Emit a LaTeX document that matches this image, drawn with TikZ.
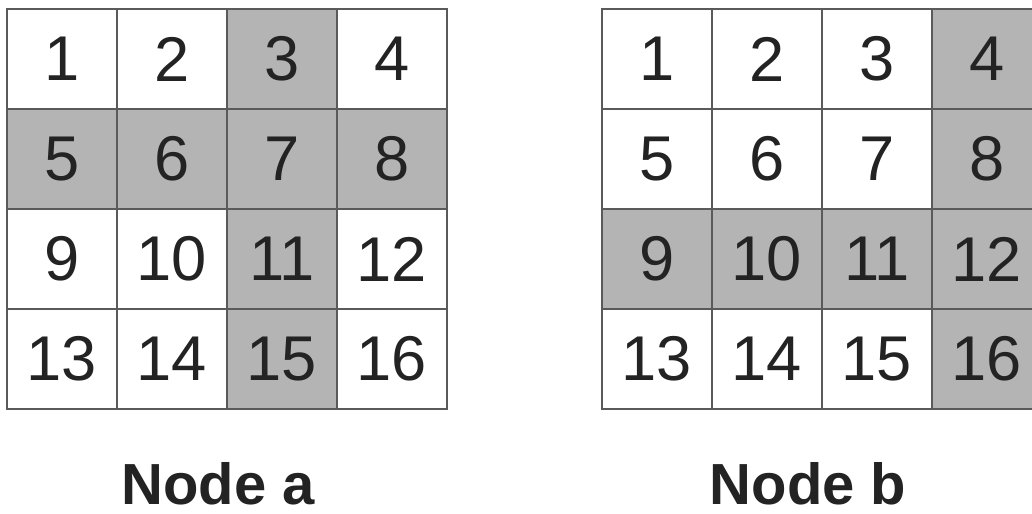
\documentclass[tikz,border=0pt]{standalone}
\usepackage{fontspec}
\setmainfont{Liberation Sans}
\usepackage{tikz}
\usetikzlibrary{positioning}
\definecolor{cellgray}{RGB}{180,180,180}
\definecolor{gridline}{RGB}{90,90,90}
\definecolor{digitink}{RGB}{35,35,35}

\begin{document}
\begin{tikzpicture}[
  x=0.02cm, y=-0.02cm,
  cell/.style={draw=gridline, line width=1.1pt, fill=white, minimum width=2.2cm, minimum height=2cm, inner sep=0pt, font=\fontsize{36}{40}\selectfont, text=digitink},
  shaded/.style={cell, fill=cellgray},
  caption/.style={font=\bfseries\fontsize{33}{38}\selectfont, text=digitink, anchor=base},
]
  \clip (0,0) rectangle (1032,514);
  % grid of node a
  \foreach \n/\st in {1/cell, 2/cell, 3/shaded, 4/cell, 5/shaded, 6/shaded, 7/shaded, 8/shaded,
                      9/cell, 10/cell, 11/shaded, 12/cell, 13/cell, 14/cell, 15/shaded, 16/cell} {
    \pgfmathtruncatemacro\col{mod(\n-1,4)}
    \pgfmathtruncatemacro\row{div(\n-1,4)}
    \node[\st] (a\n) at (62+110*\col, 59+100*\row) {\n};
  }
  % grid of node b
  \foreach \n/\st in {1/cell, 2/cell, 3/cell, 4/shaded, 5/cell, 6/cell, 7/cell, 8/shaded,
                      9/shaded, 10/shaded, 11/shaded, 12/shaded, 13/cell, 14/cell, 15/cell, 16/shaded} {
    \pgfmathtruncatemacro\col{mod(\n-1,4)}
    \pgfmathtruncatemacro\row{div(\n-1,4)}
    \node[\st] (b\n) at (657+110*\col, 59+100*\row) {\n};
  }
  \node[caption] (capa) at (218,504) {Node a};
  \node[caption] (capb) at (808,504) {Node b};
\end{tikzpicture}
\end{document}
